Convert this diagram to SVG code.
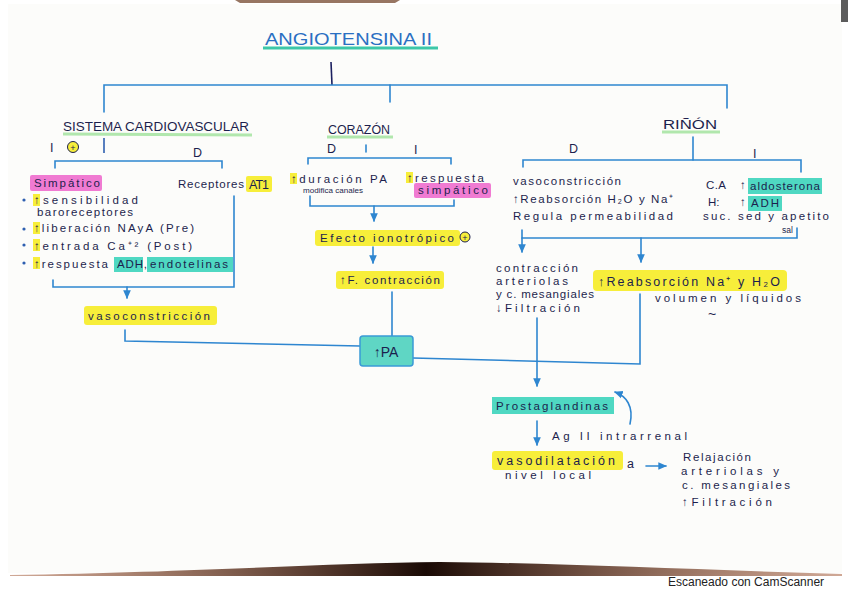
<svg xmlns="http://www.w3.org/2000/svg" width="848" height="599" viewBox="0 0 848 599">
<defs>
<marker id="ah" viewBox="0 0 10 10" refX="8" refY="5" markerWidth="6" markerHeight="6" orient="auto">
<path d="M0,1 L9,5 L0,9 Z" fill="#2e86d0"/>
</marker>
<linearGradient id="shadow" x1="0" y1="0" x2="1" y2="0">
<stop offset="0" stop-color="#a0522d" stop-opacity="0.5"/>
<stop offset="0.5" stop-color="#1a0a05"/>
<stop offset="1" stop-color="#a0522d" stop-opacity="0.5"/>
</linearGradient>
<style>
text{font-family:"Liberation Sans",Arial,sans-serif;fill:#1c1f4d;font-size:11.5px;}
.h{font-size:12.5px;}
.t{font-size:17px;fill:#2a6fc2;}
.sm{font-size:7px;}
.ln{fill:none;stroke:#2e86d0;stroke-width:1.6;stroke-linecap:round;}
.nv{fill:none;stroke:#1c2060;stroke-width:1.6;}
.yl{fill:#f7ee3a;}
.pk{fill:#f07bd2;}
.tl{fill:#4fd8c2;}
.gu{stroke:#9fe39a;stroke-width:3;opacity:0.8;}
</style>
</defs>
<rect width="848" height="599" fill="#ffffff"/>
<rect x="8" y="4" width="834" height="569" fill="#fcfcfa"/>
<!-- scan shadows -->
<path d="M10,575 C200,572 330,563 440,562 C560,563 700,570 842,574 L842,576 L10,576 Z" fill="url(#shadow)"/>
<path d="M235,0 L400,0 L395,3 L240,3 Z" fill="#6b3a1f" opacity="0.7"/>
<rect x="841" y="0" width="7" height="22" fill="#333" opacity="0.8"/>
<text x="668" y="586" style="font-size:12px;fill:#222;">Escaneado con CamScanner</text>

<!-- connectors -->
<g id="connectors">
<path class="nv" d="M331,62 L332,85"/>
<path class="ln" d="M104,112 V85 H727 V108"/>
<path class="ln" d="M390,85 V102"/>
<path class="nv" d="M104,138 V153" style="stroke:#2e5fb0"/>
<path class="ln" d="M55,168 V161 H222 V168"/>
<path class="ln" d="M53,280 V287 H234 V196"/>
<path class="ln" d="M127,287 V298" marker-end="url(#ah)"/>
<path class="ln" d="M125,330 V341 L360,346"/>
<path class="ln" d="M392,292 V336"/>
<path class="ln" d="M413,358 L640,364 V294"/>
<path class="ln" d="M366,145 V152"/>
<path class="ln" d="M308,164 V158 H451 V164"/>
<path class="ln" d="M310,196 V206 H454 V200"/>
<path class="ln" d="M374,206 V221" marker-end="url(#ah)"/>
<path class="ln" d="M373,247 V263" marker-end="url(#ah)"/>
<path class="ln" d="M693,137 V160"/>
<path class="ln" d="M523,167 V160 H801 V172"/>
<path class="ln" d="M522,230 V238 H797 V228"/>
<path class="ln" d="M522,238 V252" marker-end="url(#ah)"/>
<path class="ln" d="M641,238 V262" marker-end="url(#ah)"/>
<path class="ln" d="M537,318 V386" marker-end="url(#ah)"/>
<path class="ln" d="M630,424 C634,406 626,396 615,392" marker-end="url(#ah)"/>
<path class="ln" d="M537,421 V445" marker-end="url(#ah)"/>
<path class="ln" d="M646,466 H666" marker-end="url(#ah)"/>
</g>

<g id="title">
<line x1="263" y1="48" x2="438" y2="48" stroke="#3cc7a8" stroke-width="3"/>
<text class="t" x="265" y="45" textLength="167" lengthAdjust="spacingAndGlyphs">ANGIOTENSINA II</text>
</g>

<g id="sistema-cardiovascular">
<line class="gu" x1="63" y1="134" x2="252" y2="135"/>
<text class="h" x="63" y="131" textLength="186" lengthAdjust="spacingAndGlyphs">SISTEMA CARDIOVASCULAR</text>
<text class="h" x="50" y="152">I</text>
<circle cx="73" cy="147" r="5.5" fill="#f7ee3a" stroke="#1c1f4d" stroke-width="1"/>
<text x="73" y="150.5" text-anchor="middle" style="font-size:9px;">+</text>
<text class="h" x="193" y="157">D</text>
</g>

<g id="simpatico">
<rect class="pk" x="30" y="175" width="72" height="16" rx="2"/>
<text x="34" y="187" textLength="66" lengthAdjust="spacing">Simpático</text>
<rect class="yl" x="33" y="194" width="7" height="12"/>
<rect class="yl" x="33" y="222" width="7" height="12"/>
<rect class="yl" x="33" y="239" width="7" height="12"/>
<rect class="yl" x="33" y="257" width="7" height="12"/>
<circle cx="24" cy="200" r="1.6" fill="#2e5fb0"/>
<circle cx="24" cy="229" r="1.6" fill="#2e5fb0"/>
<circle cx="24" cy="245" r="1.6" fill="#2e5fb0"/>
<circle cx="24" cy="263" r="1.6" fill="#2e5fb0"/>
<text x="34" y="204" textLength="104" lengthAdjust="spacing">↑sensibilidad</text>
<text x="37" y="216" textLength="96" lengthAdjust="spacing">baroreceptores</text>
<text x="34" y="232" textLength="160" lengthAdjust="spacing">↑liberación NAyA (Pre)</text>
<text x="34" y="250" textLength="158" lengthAdjust="spacing">↑entrada Ca⁺² (Post)</text>
<rect class="tl" x="114" y="257" width="29" height="15"/>
<rect class="tl" x="147" y="257" width="86" height="15"/>
<text x="34" y="268" textLength="74" lengthAdjust="spacing">↑respuesta</text>
<text x="117" y="268" textLength="30" lengthAdjust="spacing">ADH,</text>
<text x="150" y="268" textLength="78" lengthAdjust="spacing">endotelinas</text>
</g>

<g id="receptores">
<rect class="yl" x="246" y="176" width="26" height="16" rx="2"/>
<text x="178" y="188" textLength="66" lengthAdjust="spacing">Receptores</text>
<text class="h" x="249" y="189" textLength="20" lengthAdjust="spacing">AT1</text>
</g>

<g id="vasoconstriccion">
<rect class="yl" x="84" y="306" width="133" height="19" rx="3"/>
<text x="88" y="320" textLength="122" lengthAdjust="spacing">vasoconstricción</text>
</g>

<g id="pa">
<rect x="360" y="336" width="53" height="30" rx="3" fill="#5fd6c4" stroke="#3a9ad6" stroke-width="1.5"/>
<text x="386" y="357" text-anchor="middle" style="font-size:14px;">↑PA</text>
</g>

<g id="corazon">
<line class="gu" x1="327" y1="137" x2="393" y2="137"/>
<text class="h" x="328" y="134" textLength="62" lengthAdjust="spacingAndGlyphs">CORAZÓN</text>
<text class="h" x="327" y="153">D</text>
<text class="h" x="414" y="154">I</text>
</g>

<g id="duracion">
<rect class="yl" x="290" y="173" width="7" height="11"/>
<text x="291" y="183" textLength="96" lengthAdjust="spacing">↑duración PA</text>
<text class="sm" x="303" y="193" textLength="60" lengthAdjust="spacingAndGlyphs">modifica canales</text>
</g>

<g id="respuesta-simpatico">
<rect class="yl" x="406" y="172" width="7" height="11"/>
<rect class="pk" x="414" y="183" width="77" height="15" rx="2"/>
<text x="407" y="182" textLength="77" lengthAdjust="spacing">↑respuesta</text>
<text x="418" y="194" textLength="70" lengthAdjust="spacing">simpático</text>
</g>

<g id="efecto-ionotropico">
<rect class="yl" x="315" y="230" width="145" height="16" rx="3"/>
<text x="320" y="242" textLength="134" lengthAdjust="spacing">Efecto ionotrópico</text>
<circle cx="465" cy="237" r="5" fill="#f7ee3a" stroke="#1c1f4d" stroke-width="1"/>
<text x="465" y="240.5" text-anchor="middle" style="font-size:9px;">+</text>
</g>

<g id="f-contraccion">
<rect class="yl" x="336" y="271" width="108" height="18" rx="3"/>
<text x="340" y="284" textLength="100" lengthAdjust="spacing">↑F. contracción</text>
</g>

<g id="rinon">
<line class="gu" x1="662" y1="132" x2="720" y2="132"/>
<text class="h" x="663" y="129" textLength="54" lengthAdjust="spacingAndGlyphs">RIÑÓN</text>
<text class="h" x="569" y="153">D</text>
<text class="h" x="753" y="158">I</text>
</g>

<g id="rinon-d">
<text x="513" y="185" textLength="108" lengthAdjust="spacing">vasoconstricción</text>
<text x="513" y="203" textLength="160" lengthAdjust="spacing">↑Reabsorción H₂O y Na⁺</text>
<text x="513" y="220" textLength="160" lengthAdjust="spacing">Regula permeabilidad</text>
</g>

<g id="rinon-i">
<rect class="tl" x="748" y="178" width="74" height="16"/>
<rect class="tl" x="748" y="196" width="34" height="15"/>
<text x="706" y="189" textLength="20" lengthAdjust="spacing">C.A</text>
<text x="740" y="189">↑</text>
<text x="750" y="190" textLength="70" lengthAdjust="spacing">aldosterona</text>
<text x="708" y="206">H:</text>
<text x="740" y="206">↑</text>
<text x="751" y="207" textLength="28" lengthAdjust="spacing">ADH</text>
<text x="703" y="220" textLength="126" lengthAdjust="spacing">suc. sed y apetito</text>
<text x="782" y="233" style="font-size:8.5px;">sal</text>
</g>

<g id="contraccion-arteriolas">
<text x="496" y="272" textLength="82" lengthAdjust="spacing">contracción</text>
<text x="496" y="285" textLength="72" lengthAdjust="spacing">arteriolas</text>
<text x="496" y="298" textLength="98" lengthAdjust="spacing">y c. mesangiales</text>
<text x="496" y="312" textLength="84" lengthAdjust="spacing">↓Filtración</text>
</g>

<g id="reabsorcion">
<rect class="yl" x="593" y="270" width="194" height="21" rx="4"/>
<text class="h" x="598" y="286" textLength="182" lengthAdjust="spacing">↑Reabsorción Na⁺ y H₂O</text>
<text x="655" y="302" textLength="146" lengthAdjust="spacing">volumen y líquidos</text>
<text x="708" y="319" style="font-size:14px;">~</text>
</g>

<g id="prostaglandinas">
<rect class="tl" x="492" y="397" width="122" height="17"/>
<text x="496" y="410" textLength="112" lengthAdjust="spacing">Prostaglandinas</text>
<text x="552" y="440" textLength="135" lengthAdjust="spacing">Ag II intrarrenal</text>
</g>

<g id="vasodilatacion">
<rect class="yl" x="492" y="451" width="131" height="19" rx="3"/>
<text class="h" x="497" y="465" textLength="118" lengthAdjust="spacing">vasodilatación</text>
<text class="h" x="627" y="468">a</text>
<text x="505" y="479" textLength="86" lengthAdjust="spacing">nivel local</text>
</g>

<g id="relajacion">
<text x="683" y="461" textLength="68" lengthAdjust="spacing">Relajación</text>
<text x="681" y="475" textLength="98" lengthAdjust="spacing">arteriolas y</text>
<text x="682" y="489" textLength="108" lengthAdjust="spacing">c. mesangiales</text>
<text x="682" y="506" textLength="90" lengthAdjust="spacing">↑Filtración</text>
</g>
</svg>
